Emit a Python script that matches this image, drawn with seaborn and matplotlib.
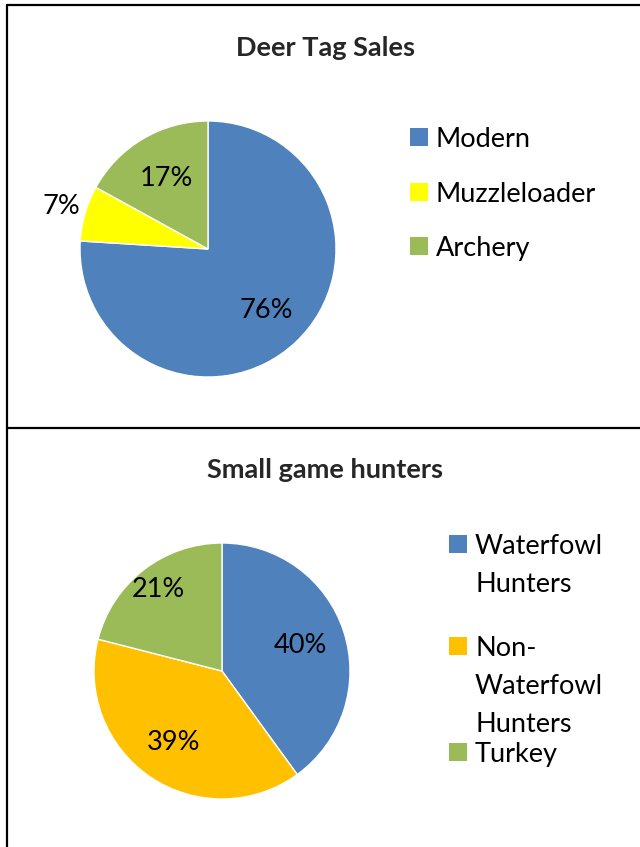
import numpy as np
import pandas as pd
import matplotlib.pyplot as plt
import seaborn as sns
from matplotlib.lines import Line2D
from matplotlib.patches import Rectangle

deer_labels = ['Modern', 'Muzzleloader', 'Archery']
deer_values = [76, 7, 17]
deer_colors = ['#4F81BD', '#FFFF00', '#9BBB59']

game_labels = ['Waterfowl\nHunters', 'Non-\nWaterfowl\nHunters', 'Turkey']
game_values = [40, 39, 21]
game_colors = ['#4F81BD', '#FFC000', '#9BBB59']

sns.set_theme(style='white')
plt.rcParams['font.family'] = ['Lato', 'DejaVu Sans']

W, H = 640, 847
FS = 19.5
fig = plt.figure(figsize=(W / 100, H / 100), dpi=100)
fig.patch.set_facecolor('white')


def pie_axes(cx, cy, r):
    return fig.add_axes([(cx - r) / W, (H - cy - r) / H, 2 * r / W, 2 * r / H])


def draw_pie(ax, values, colors, dists):
    wedges, texts, autotexts = ax.pie(values, colors=colors, startangle=90, counterclock=False,
                                      autopct='%1.0f%%', pctdistance=0.65, radius=1,
                                      textprops={'fontsize': FS, 'color': 'black'})
    for t, d in zip(autotexts, dists):
        x, y = t.get_position()
        t.set_position((x * d / 0.65, y * d / 0.65))
    ax.set_xlim(-1, 1)
    ax.set_ylim(-1, 1)
    ax.set_aspect('equal')
    ax.axis('off')
    return wedges


def draw_legend(labels, colors, box_x, text_x, rows_y, line_gap):
    # excel style legend: square marker aligned with first line of the label
    for lab, col, y0 in zip(labels, colors, rows_y):
        fig.add_artist(Rectangle((box_x / W, 1 - (y0 + 9) / H), 18 / W, 18 / H,
                                 transform=fig.transFigure, facecolor=col, edgecolor='none'))
        for i, line in enumerate(lab.split('\n')):
            fig.text(text_x / W, 1 - (y0 + i * line_gap) / H, line, ha='left', va='center_baseline',
                     fontsize=FS, color='black')


# Deer tag sales
ax1 = pie_axes(208, 249, 128)
draw_pie(ax1, deer_values, deer_colors, [0.66, 1.19, 0.64])
fig.text(325 / W, 1 - 48 / H, 'Deer Tag Sales', ha='center', va='center', fontsize=FS, fontweight='bold')
draw_legend(deer_labels, deer_colors, 410, 436, [137, 192, 246], 38)

# Small game hunters
ax2 = pie_axes(222, 671, 128)
draw_pie(ax2, game_values, game_colors, [0.64, 0.68, 0.81])
fig.text(325 / W, 1 - 470 / H, 'Small game hunters', ha='center', va='center', fontsize=FS, fontweight='bold')
draw_legend(game_labels, game_colors, 449, 475, [544, 646, 752], 38)

# panel borders
lw = 1.6
fig.add_artist(Line2D([6.5 / W, 6.5 / W], [0, 1 - 5 / H], color='black', lw=lw))
fig.add_artist(Line2D([6.5 / W, 1], [1 - 5 / H, 1 - 5 / H], color='black', lw=lw))
fig.add_artist(Line2D([6.5 / W, 1], [1 - 428 / H, 1 - 428 / H], color='black', lw=lw))

fig.savefig('out.png', dpi=100, facecolor='white')
